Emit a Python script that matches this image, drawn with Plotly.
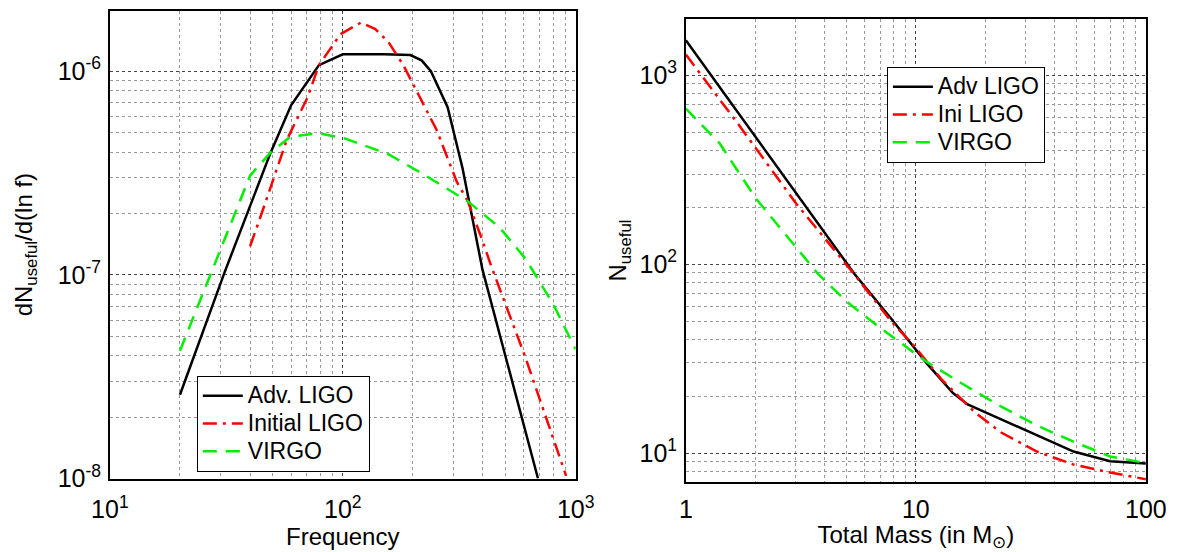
import numpy as np
import plotly.graph_objects as go

# ---------------- data ----------------
# Left panel: dN_useful / d(ln f) vs frequency
adv_f = [20, 31, 49, 60, 79, 100, 150, 195, 218, 239, 282, 327, 398, 689]
adv_v = [2.58e-8, 1.02e-7, 3.98e-7, 6.8e-7, 1.07e-6, 1.21e-6, 1.21e-6, 1.2e-6,
         1.13e-6, 1.0e-6, 6.65e-7, 3.33e-7, 1.06e-7, 1.0e-8]

ini_f = [40, 44.5, 57.5, 70.5, 79, 97.8, 119.6, 138, 157, 182, 211, 253, 309,
         345, 393, 437, 608, 910]
ini_v = [1.38e-7, 1.95e-7, 4.6e-7, 7.4e-7, 1.07e-6, 1.52e-6, 1.73e-6, 1.61e-6,
         1.39e-6, 1.07e-6, 7.7e-7, 5.14e-7, 2.86e-7, 2.29e-7, 1.53e-7, 1.08e-7,
         3.94e-8, 1.03e-8]

virgo_f = [20, 28.2, 40, 48.9, 59.7, 78.5, 101, 157, 227, 345, 471, 609, 800, 1000]
virgo_v = [4.24e-8, 1.14e-7, 3.07e-7, 3.98e-7, 4.77e-7, 4.96e-7, 4.69e-7,
           3.91e-7, 3.07e-7, 2.29e-7, 1.71e-7, 1.2e-7, 7.2e-8, 4.3e-8]

# Right panel: N_useful vs total mass
adv_m = [1, 1.68, 3.02, 5.41, 7.8, 9.36, 11.2, 14.5, 16.8, 20.2, 30.1, 48.5, 69.9, 100]
adv_n = [1530, 638, 240, 88.7, 51.6, 39.2, 29.7, 20.8, 18.1, 16.4, 13.2, 10.2, 9.06, 8.81]

ini_m = [1, 1.68, 3.02, 5.2, 7.8, 9.7, 13, 18.1, 23.4, 33.6, 48.5, 69.9, 100]
ini_n = [1285, 556, 209, 93.5, 50, 37.6, 24.4, 16.4, 12.9, 10.2, 8.7, 7.9, 7.28]

virgo_m = [1, 1.4, 2.02, 3.02, 3.75, 5.03, 6.74, 9.36, 11.2, 16.2, 23.4, 33.6, 48.5, 69.9, 100]
virgo_n = [665, 437, 222, 122, 89, 63, 47.7, 35.5, 30.3, 23.0, 17.7, 14.0, 11.5, 9.6, 8.87]

left_names = ["Adv. LIGO", "Initial LIGO", "VIRGO"]
right_names = ["Adv LIGO", "Ini LIGO", "VIRGO"]

left_xticks = [10, 100, 1000]
left_xtext = ["10<sup>1</sup>", "10<sup>2</sup>", "10<sup>3</sup>"]
left_yticks = [1e-8, 1e-7, 1e-6]
left_ytext = ["10<sup>-8</sup>", "10<sup>-7</sup>", "10<sup>-6</sup>"]
right_xticks = [1, 10, 100]
right_xtext = ["1", "10", "100"]
right_yticks = [10, 100, 1000]
right_ytext = ["10<sup>1</sup>", "10<sup>2</sup>", "10<sup>3</sup>"]

# ---------------- styling ----------------
FONT = "Liberation Sans, Arial, Helvetica, sans-serif"
BLACK = "#000000"
RED = "#ff0000"
GREEN = "#00ee00"
DASHDOT = "14px,6px,3px,6px"
DASH = "14px,9px"
LW = 2.5
TICK_SIZE = 25
TITLE_SIZE = 24
LEG_ROW = 19      # controls legend row spacing
LEG_TEXT = 23     # visible legend text size


def big(name):
    return '<span style="font-size:%dpx">%s</span>' % (LEG_TEXT, name)


def minor_vals(lo_exp, hi_exp):
    vals = []
    for e in range(lo_exp, hi_exp + 1):
        for d in range(2, 10):
            vals.append(d * 10.0 ** e)
    return vals


fig = go.Figure()

fig.add_trace(go.Scatter(x=adv_f, y=adv_v, mode="lines", name=big(left_names[0]),
                         line=dict(color=BLACK, width=LW), xaxis="x", yaxis="y",
                         legend="legend"))
fig.add_trace(go.Scatter(x=ini_f, y=ini_v, mode="lines", name=big(left_names[1]),
                         line=dict(color=RED, width=LW, dash=DASHDOT), xaxis="x", yaxis="y",
                         legend="legend"))
fig.add_trace(go.Scatter(x=virgo_f, y=virgo_v, mode="lines", name=big(left_names[2]),
                         line=dict(color=GREEN, width=LW, dash=DASH), xaxis="x", yaxis="y",
                         legend="legend"))

fig.add_trace(go.Scatter(x=adv_m, y=adv_n, mode="lines", name=big(right_names[0]),
                         line=dict(color=BLACK, width=LW), xaxis="x2", yaxis="y2",
                         legend="legend2"))
fig.add_trace(go.Scatter(x=ini_m, y=ini_n, mode="lines", name=big(right_names[1]),
                         line=dict(color=RED, width=LW, dash=DASHDOT), xaxis="x2", yaxis="y2",
                         legend="legend2"))
fig.add_trace(go.Scatter(x=virgo_m, y=virgo_n, mode="lines", name=big(right_names[2]),
                         line=dict(color=GREEN, width=LW, dash=DASH), xaxis="x2", yaxis="y2",
                         legend="legend2"))

W, H = 1192, 552


def axis(domain, rng, tickvals, ticktext, minor, title, anchor, standoff, lblstand):
    return dict(
        type="log", domain=domain, range=rng, anchor=anchor,
        tickmode="array", tickvals=tickvals, ticktext=ticktext,
        tickfont=dict(size=TICK_SIZE, color="black", family=FONT),
        ticklabelstandoff=lblstand,
        showline=True, linecolor="black", linewidth=1.5, mirror=True,
        showgrid=True, gridcolor="#444444", gridwidth=1, griddash="dot",
        ticks="", zeroline=False,
        minor=dict(tickmode="array", tickvals=minor, showgrid=True,
                   gridcolor="#999999", gridwidth=1, griddash="dot", ticks=""),
        title=dict(text=title, font=dict(size=TITLE_SIZE, color="black", family=FONT),
                   standoff=standoff),
    )


lx = [94 / W, 576 / W]
ly = [(H - 491) / H, (H - 11) / H]
rx = [690 / W, 1166 / W]
ry = [(H - 495) / H, (H - 19) / H]

legend_style = dict(xanchor="left", yanchor="middle",
                    bgcolor="white", bordercolor="black", borderwidth=1,
                    font=dict(size=LEG_ROW, family=FONT, color="black"),
                    tracegroupgap=0, itemwidth=40)

fig.update_layout(
    width=W, height=H,
    margin=dict(l=0, r=0, t=0, b=0),
    paper_bgcolor="white", plot_bgcolor="white",
    font=dict(family=FONT, color="black"),
    xaxis=axis(lx, [1, 3], left_xticks, left_xtext, minor_vals(1, 2),
               "Frequency", "y", 3, 8),
    yaxis=axis(ly, [-8, np.log10(1.98e-6)], left_yticks, left_ytext, minor_vals(-8, -7),
               "dN<sub>useful</sub>/d(ln f)", "x", 18, 2),
    xaxis2=axis(rx, [0, 2], right_xticks, right_xtext, minor_vals(0, 1),
                "Total Mass (in M<sub>⊙</sub>)", "y2", 5, 4),
    yaxis2=axis(ry, [np.log10(7.0), np.log10(1995)], right_yticks, right_ytext,
                minor_vals(0, 2), "N<sub>useful</sub>", "x2", 6, 2),
    legend=dict(x=184 / W, y=(H - 435) / H, **legend_style),
    legend2=dict(x=898 / W, y=(H - 118) / H, **legend_style),
    showlegend=True,
)

fig.write_html("out.html", config={"displayModeBar": False},
               post_script="document.body.style.margin='0';document.body.style.overflow='hidden';")
